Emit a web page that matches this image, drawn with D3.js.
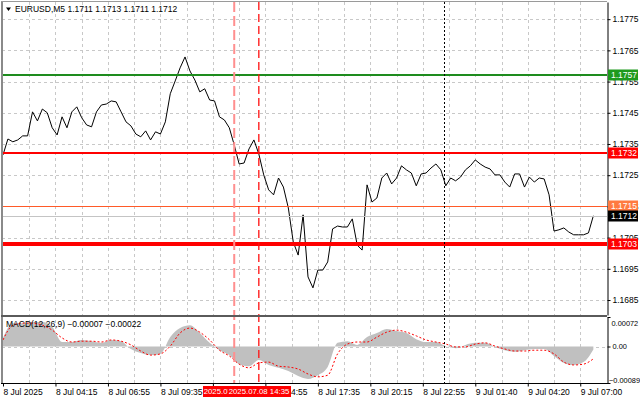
<!DOCTYPE html>
<html>
<head>
<meta charset="utf-8">
<script src="https://cdn.jsdelivr.net/npm/d3@7"></script>
<style>
	html, body { margin: 0; padding: 0; background: #fff; }
	svg text { font-family: "Liberation Sans", Arial, sans-serif; font-size: 8.5px; fill: #000; }
</style>
</head>
<body>
<div id="chart"></div>
<script>
// EURUSD M5 closes, one every third bar
const closes = [
	1.17315, 1.17366, 1.17357, 1.17363, 1.17376, 1.17376, 1.17453, 1.17424, 1.17462, 1.17450,
	1.17402, 1.17379, 1.17437, 1.17402, 1.17453, 1.17469, 1.17434, 1.17411, 1.17405, 1.17453,
	1.17475, 1.17478, 1.17488, 1.17485, 1.17453, 1.17421, 1.17408, 1.17382, 1.17373, 1.17392,
	1.17363, 1.17389, 1.17382, 1.17421, 1.17511, 1.17552, 1.17594, 1.17629, 1.17584, 1.17555,
	1.17517, 1.17527, 1.17491, 1.17488, 1.17437, 1.17427, 1.17402, 1.17347, 1.17286, 1.17289,
	1.17334, 1.17363, 1.17318, 1.17251, 1.17203, 1.17187, 1.17241, 1.17212, 1.17145, 1.17036,
	1.16994, 1.17123, 1.16924, 1.16889, 1.16946, 1.16946, 1.16972, 1.17078, 1.17087, 1.17084,
	1.17084, 1.17110, 1.17026, 1.17010, 1.17219, 1.17164, 1.17177, 1.17241, 1.17257, 1.17222,
	1.17241, 1.17280, 1.17267, 1.17257, 1.17216, 1.17254, 1.17257, 1.17273, 1.17286, 1.17267,
	1.17216, 1.17241, 1.17232, 1.17244, 1.17267, 1.17280, 1.17299, 1.17286, 1.17276, 1.17270,
	1.17251, 1.17251, 1.17228, 1.17212, 1.17254, 1.17254, 1.17212, 1.17244, 1.17228, 1.17241,
	1.17238, 1.17187, 1.17071, 1.17075, 1.17081, 1.17068, 1.17059, 1.17059, 1.17059, 1.17065,
	1.17120
];
const closeStep = 3;

// MACD(12,26,9), one value every sixth bar
const macdMain = [
	0.00021, 0.00057, 0.00057, 0.00060, 0.00060, 0.00048, 0.00011, 0.00011, 0.00016, 0.00013,
	0.00009, 0.00016, 0.00013, -0.00006, -0.00016, -0.00021, -0.00018, 0.00023, 0.00045, 0.00052,
	0.00033, 0.00009, -0.00009, -0.00021, -0.00043, -0.00048, -0.00033, -0.00045, -0.00052, -0.00060,
	-0.00072, -0.00079, -0.00070, -0.00050, 0.00009, 0.00013, 0.00004, 0.00023, 0.00033, 0.00043,
	0.00038, 0.00033, 0.00018, 0.00011, 0.00011, 0.00001, -0.00004, 0.00004, 0.00009, 0.00009,
	-0.00001, -0.00009, -0.00013, -0.00009, -0.00006, -0.00006, -0.00023, -0.00040, -0.00045, -0.00038,
	-0.00007
];
const macdSignal = [
	0.00016, 0.00052, 0.00057, 0.00057, 0.00052, 0.00040, 0.00021, 0.00011, 0.00013, 0.00013,
	0.00011, 0.00016, 0.00013, 0.00004, -0.00011, -0.00021, -0.00018, 0.00001, 0.00033, 0.00045,
	0.00035, 0.00016, -0.00009, -0.00023, -0.00043, -0.00052, -0.00040, -0.00038, -0.00048, -0.00050,
	-0.00055, -0.00067, -0.00074, -0.00070, -0.00018, 0.00006, 0.00011, 0.00011, 0.00023, 0.00035,
	0.00040, 0.00035, 0.00026, 0.00016, 0.00011, 0.00006, -0.00001, -0.00001, 0.00006, 0.00009,
	0.00001, -0.00006, -0.00011, -0.00011, -0.00009, -0.00009, -0.00018, -0.00038, -0.00045, -0.00043,
	-0.00030
];
const macdStep = 6;

const timeLabels = ["8 Jul 2025", "8 Jul 04:15", "8 Jul 06:55", "8 Jul 09:35", "8 Jul 12:15", "8 Jul 14:55",
	"8 Jul 17:35", "8 Jul 20:15", "8 Jul 22:55", "9 Jul 01:40", "9 Jul 04:20", "9 Jul 07:00"];
const timeLabelStep = 32;
const gridStep = 16;
const visibleBars = 361;

const priceTicks = [1.1775, 1.1765, 1.1755, 1.1745, 1.1735, 1.1725, 1.1715, 1.1705, 1.1695, 1.1685];
const priceRange = [1.16802, 1.17805];
const macdTicks = [0.00072, 0, -0.00089];

const levelPrices = [1.1757, 1.1732, 1.1715, 1.1712, 1.1703];
const markerBars = [141, 156];
const markerTimes = ["2025.07.08 13:20", "2025.07.08 14:35"];
const separatorBar = 269;

const symbol = "EURUSD,M5";
const quote = [1.1711, 1.1713, 1.1711, 1.1712];
const macdValues = [-0.00007, -0.00022];

// ---- layout
const W = 640, H = 401;
const frame = { left: 2, right: 607, top: 2, mainBottom: 315, macdTop: 317, macdBottom: 383 };

const levelStyles = [
	{ stroke: "#1e8c1e", width: 2, box: "#1e9a1e" },
	{ stroke: "#ff0000", width: 2, box: "#ff0000" },
	{ stroke: "#ff5a28", width: 1, box: "#ff7a40" },
	{ stroke: "#c4c4c4", width: 1, box: "#000000" },
	{ stroke: "#ff0000", width: 4, box: "#ff0000" }
];
const markerStyles = [
	{ stroke: "#ff8f8f", width: 2, dash: "10,4" },
	{ stroke: "#ff1010", width: 1.3, dash: "8,4" }
];

const fmtPrice = d3.format(".4f");
const fmtMacd = function(d) { return d === 0 ? "0.00" : d3.format(".5f")(d); };
const crisp = function(v) { return Math.round(v) + 0.5; };

const svg = d3.select("#chart").append("svg")
	.attr("width", W)
	.attr("height", H)
	.style("display", "block");

const x = d3.scaleLinear().domain([0, visibleBars]).range([3, 595]);
const y = d3.scaleLinear().domain(priceRange).range([frame.mainBottom, frame.top]);
const yM = d3.scaleLinear().domain([macdTicks[2], macdTicks[0]]).range([frame.macdBottom, frame.macdTop]);

// ---- grid
const grid = svg.append("g")
	.attr("stroke", "#c8c8c8")
	.attr("stroke-dasharray", "3,3")
	.attr("shape-rendering", "crispEdges");

grid.selectAll(".gx")
	.data(d3.range(gridStep, visibleBars, gridStep))
	.join("line")
	.attr("x1", d => crisp(x(d)))
	.attr("x2", d => crisp(x(d)))
	.attr("y1", frame.top)
	.attr("y2", frame.macdBottom);

grid.selectAll(".gy")
	.data(priceTicks)
	.join("line")
	.attr("x1", frame.left)
	.attr("x2", frame.right)
	.attr("y1", d => crisp(y(d)))
	.attr("y2", d => crisp(y(d)));

grid.append("line")
	.attr("x1", frame.left)
	.attr("x2", frame.right)
	.attr("y1", crisp(yM(0)))
	.attr("y2", crisp(yM(0)));

// ---- MACD pane
svg.append("path")
	.datum(macdMain)
	.attr("fill", "#c0c0c0")
	.attr("d", d3.area()
		.x((d, i) => x(i * macdStep))
		.y0(yM(0))
		.y1(d => yM(d))
		.curve(d3.curveMonotoneX));

svg.append("path")
	.datum(macdSignal)
	.attr("fill", "none")
	.attr("stroke", "#ff0000")
	.attr("stroke-width", 1)
	.attr("stroke-dasharray", "2,2")
	.attr("d", d3.line()
		.x((d, i) => x(i * macdStep))
		.y(d => yM(d))
		.curve(d3.curveMonotoneX));

// ---- price line
svg.append("path")
	.datum(closes)
	.attr("fill", "none")
	.attr("stroke", "#000")
	.attr("stroke-width", 1)
	.attr("stroke-linejoin", "round")
	.attr("d", d3.line()
		.x((d, i) => x(i * closeStep))
		.y(d => y(d)));

// ---- horizontal levels
svg.append("g")
	.selectAll("line")
	.data(levelPrices)
	.join("line")
	.attr("x1", frame.left)
	.attr("x2", frame.right)
	.attr("y1", (d, i) => levelStyles[i].width % 2 ? crisp(y(d)) : Math.round(y(d)))
	.attr("y2", (d, i) => levelStyles[i].width % 2 ? crisp(y(d)) : Math.round(y(d)))
	.attr("stroke", (d, i) => levelStyles[i].stroke)
	.attr("stroke-width", (d, i) => levelStyles[i].width);

// ---- day separator, then the two vertical markers
svg.append("line")
	.attr("x1", crisp(x(separatorBar)))
	.attr("x2", crisp(x(separatorBar)))
	.attr("y1", frame.top)
	.attr("y2", frame.macdBottom + 3)
	.attr("stroke", "#000")
	.attr("stroke-dasharray", "2,2");

markerBars.forEach(function(bar, i) {
	var st = markerStyles[i];
	svg.append("line")
		.attr("x1", x(bar))
		.attr("x2", x(bar))
		.attr("y1", frame.top)
		.attr("y2", frame.macdBottom)
		.attr("stroke", st.stroke)
		.attr("stroke-width", st.width)
		.attr("stroke-dasharray", st.dash);
});

// ---- frame
const border = svg.append("g").attr("fill", "none").attr("shape-rendering", "crispEdges");
border.append("line").attr("x1", 1.5).attr("x2", 1.5).attr("y1", 1).attr("y2", frame.macdBottom).attr("stroke", "#8a8a8a").attr("stroke-width", 2);
border.append("line").attr("x1", 1).attr("x2", frame.right).attr("y1", 1.5).attr("y2", 1.5).attr("stroke", "#9a9a9a");
border.append("line").attr("x1", 1).attr("x2", frame.right).attr("y1", 316).attr("y2", 316).attr("stroke", "#5a5a5a").attr("stroke-width", 2);
border.append("line").attr("x1", 1).attr("x2", frame.right + 0.5).attr("y1", frame.macdBottom + 0.5).attr("y2", frame.macdBottom + 0.5).attr("stroke", "#000");

// ---- price axis
const priceAxis = svg.append("g")
	.attr("transform", "translate(" + (frame.right + 0.5) + ",0)")
	.call(d3.axisRight(y).tickValues(priceTicks).tickFormat(fmtPrice).tickSize(3).tickSizeOuter(0).tickPadding(2));
priceAxis.select(".domain").attr("stroke", "#000");

// ---- macd axis
const macdAxis = svg.append("g")
	.attr("transform", "translate(" + (frame.right + 0.5) + ",0)")
	.call(d3.axisRight(yM).tickValues(macdTicks).tickFormat(fmtMacd).tickSize(3).tickSizeOuter(0).tickPadding(2));
macdAxis.select(".domain").attr("stroke", "#000");
macdAxis.selectAll(".tick text").style("font-size", "7.4px");
macdAxis.selectAll(".tick")
	.filter((d, i) => i === 0)
	.select("text").attr("dy", "1.15em").attr("x", 4);
macdAxis.selectAll(".tick")
	.filter((d, i) => i === 2)
	.select("text").attr("dy", "-0.1em").attr("x", 1.5);

// ---- time axis
const timeAxis = svg.append("g")
	.attr("transform", "translate(0," + (frame.macdBottom + 0.5) + ")")
	.call(d3.axisBottom(x)
		.tickValues(d3.range(0, visibleBars, timeLabelStep))
		.tickFormat((d, i) => timeLabels[i])
		.tickSize(3)
		.tickPadding(2));
timeAxis.select(".domain").remove();
timeAxis.selectAll(".tick text").attr("text-anchor", "start").attr("x", 0);

// let the stylesheet pick the font for all axis text
[priceAxis, macdAxis, timeAxis].forEach(function(g) {
	g.attr("font-size", null).attr("font-family", null);
});

// ---- price labels on the axis
const tags = svg.append("g")
	.selectAll("g")
	.data(levelPrices)
	.join("g")
	.attr("transform", d => "translate(" + (frame.right + 1) + "," + Math.round(y(d)) + ")");
tags.append("rect")
	.attr("x", 0)
	.attr("y", -5.5)
	.attr("width", 30)
	.attr("height", 11)
	.attr("fill", (d, i) => levelStyles[i].box);
tags.append("text")
	.attr("x", 3)
	.attr("y", 3)
	.style("fill", "#fff")
	.text(d => fmtPrice(d));

// ---- marker time labels
const markerTags = svg.append("g")
	.selectAll("g")
	.data(markerBars)
	.join("g")
	.attr("transform", d => "translate(" + Math.round(x(d)) + "," + (frame.macdBottom + 3) + ")");
markerTags.append("rect")
	.attr("x", -31)
	.attr("y", 0)
	.attr("width", 63)
	.attr("height", 11)
	.attr("fill", "#ff0000");
markerTags.append("text")
	.attr("x", 0)
	.attr("y", 8.3)
	.attr("text-anchor", "middle")
	.style("font-size", "7.8px")
	.style("fill", "#fff")
	.text((d, i) => markerTimes[i]);

// ---- headers
svg.append("path")
	.attr("d", "M6,7.5 L11,7.5 L8.5,11 Z")
	.attr("fill", "#000");
svg.append("text")
	.attr("x", 15)
	.attr("y", 12)
	.text(symbol + "  " + quote.map(fmtPrice).join(" "));
svg.append("text")
	.attr("x", 6)
	.attr("y", 327)
	.text("MACD(12,26,9) " + macdValues.map(d3.format(".5f")).join(" "));
</script>
</body>
</html>
